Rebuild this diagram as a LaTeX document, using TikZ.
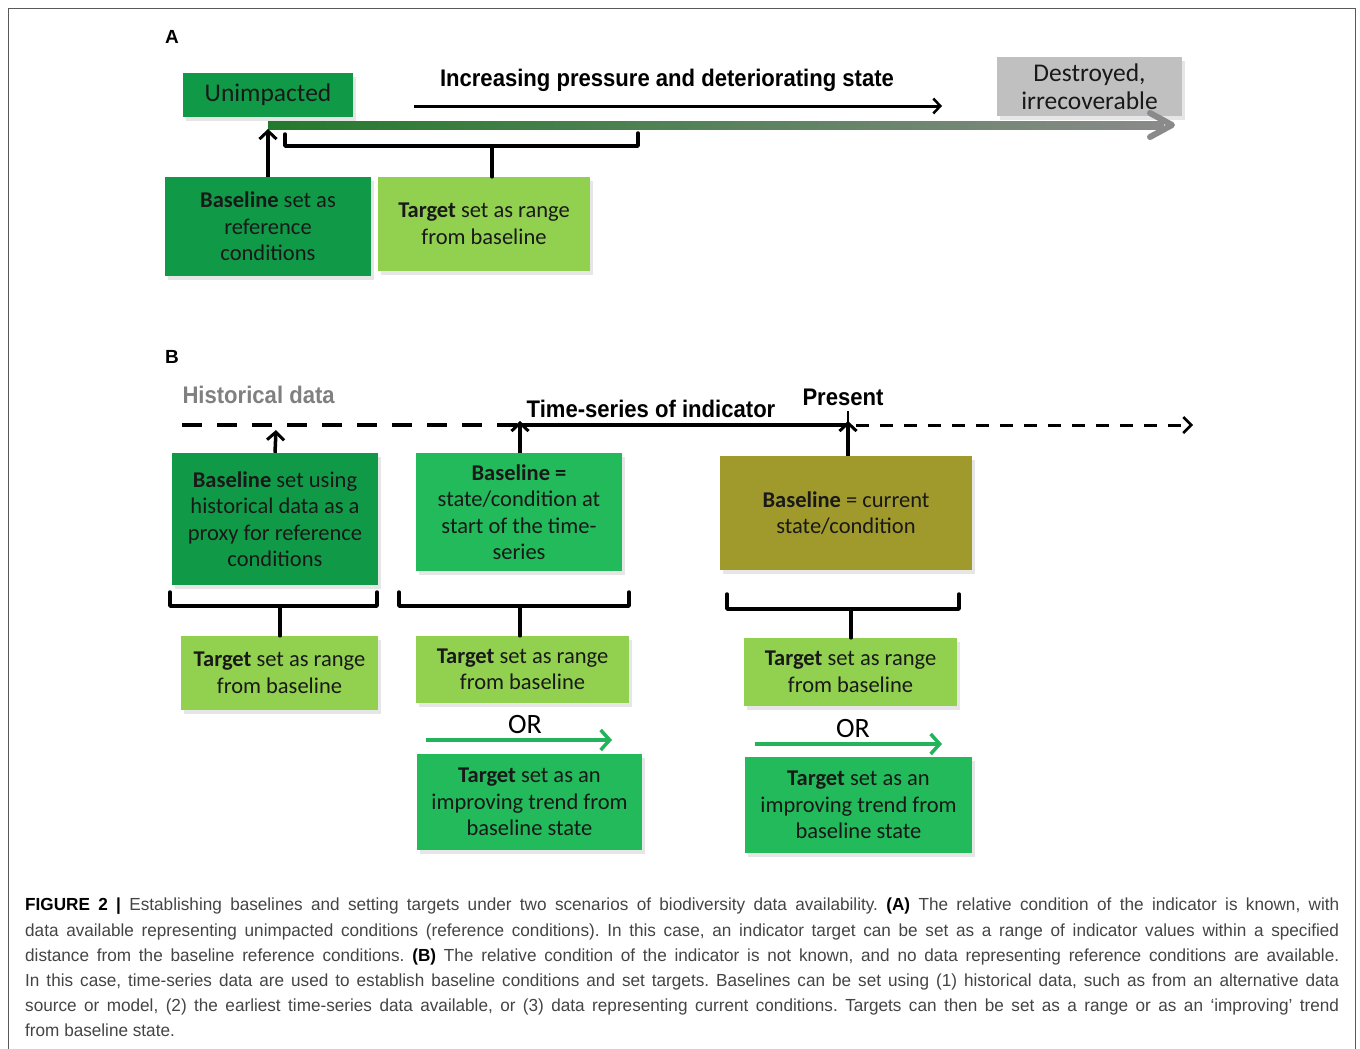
\documentclass[tikz,border=0pt]{standalone}
\usepackage{fontspec}
\usepackage{xcolor}
\usepackage{tikz}
\usetikzlibrary{positioning,shadows,arrows.meta}
\setmainfont{Liberation Sans}
\newfontfamily\boxfont{Carlito}
\newfontfamily\headfont[FakeStretch=0.92]{Liberation Sans}
\newfontfamily\capfont[FakeStretch=0.98]{Liberation Sans}

\definecolor{darkgreen}{HTML}{109A48}
\definecolor{midgreen}{HTML}{22BA5B}
\definecolor{lightgreen}{HTML}{92D050}
\definecolor{olivebox}{HTML}{A09A2D}
\definecolor{greybox}{HTML}{C0C0C0}
\definecolor{trendgreen}{HTML}{23B35B}
\definecolor{captext}{HTML}{444444}
\definecolor{stateleft}{HTML}{247A2C}
\definecolor{statemid}{HTML}{86B356}
\definecolor{stateright}{HTML}{8A8A8A}

\tikzset{
    stepbox/.style={rectangle, inner sep=2pt, align=center, text=black!90,
        font=\boxfont\fontsize{22.5}{26.5}\selectfont,
        drop shadow={shadow xshift=3pt, shadow yshift=-4pt, opacity=0.2}},
    headtext/.style={font=\headfont\bfseries\fontsize{24}{28}\selectfont},
    thickline/.style={line width=3.5pt, line cap=round, line join=round},
    uparrow/.style={line width=3.5pt, -{Straight Barb[length=8pt, width=17pt, line width=3pt]}},
    trendarrow/.style={line width=3.5pt, trendgreen, -{Straight Barb[length=9pt, width=20pt, line width=3.5pt]}}
}

\begin{document}
\begin{tikzpicture}[x=1pt, y=-1pt]
    \useasboundingbox (0,0) rectangle (1360,1049);
    \draw[black!65, line width=1pt] (8,1049) -- (8,9) -- (1355,9) -- (1355,1049);

    % panel A
    \node (labA) [font=\bfseries\fontsize{19}{22}\selectfont] at (172,37) {A};
    \node (unimp) [stepbox, fill=darkgreen, minimum width=170pt, minimum height=44pt, drop shadow={opacity=0},
        font=\boxfont\fontsize{25.5}{29}\selectfont] at (268,95) {Unimpacted};
    \node (destr) [stepbox, fill=greybox, minimum width=185pt, minimum height=59pt, drop shadow={opacity=0},
        font=\boxfont\fontsize{25.5}{28}\selectfont] at (1089.5,86.5) {Destroyed,\\irrecoverable};
    \node (press) [headtext] at (667,80) {Increasing pressure and deteriorating state};
    \coordinate (pressL) at (414,106);
    \coordinate (pressR) at (942,106);
    \draw[line width=3pt, -{Straight Barb[length=7pt, width=15pt, line width=2.5pt]}] (pressL) -- (pressR);

    \coordinate (stateL) at (268,125);
    \coordinate (stateR) at (1172,125);
    \shade[left color=stateleft, middle color=statemid, right color=stateright]
        ([yshift=-4pt]stateL) rectangle ([xshift=-8pt, yshift=4pt]stateR);
    \draw[stateright, line width=6pt, line cap=round, line join=round]
        ([xshift=-22pt, yshift=-12pt]stateR) -- (stateR) -- ([xshift=-22pt, yshift=12pt]stateR);

    \node (baseA) [stepbox, fill=darkgreen, minimum width=206pt, minimum height=99pt] at (268,226.5) {\textbf{Baseline} set as\\reference\\conditions};
    \node (targA) [stepbox, fill=lightgreen, minimum width=212pt, minimum height=94pt] at (484,224) {\textbf{Target} set as range\\from baseline};
    \draw[uparrow] (baseA.north) -- (stateL |- 0,129);
    \draw[thickline] (285,134) -- (285,146) -- (638,146) -- (638,133);
    \draw[thickline] (492,146) -- (targA.north -| 492,0);

    % panel B
    \node (labB) [font=\bfseries\fontsize{19}{22}\selectfont] at (172,357) {B};
    \node (hist) [headtext, text=black!50, anchor=west] at (179,395) {Historical data};
    \node (series) [headtext] at (651,409) {Time-series of indicator};
    \node (present) [headtext] at (843,397) {Present};

    \coordinate (lineL) at (182,425);
    \coordinate (startT) at (520,425);
    \coordinate (presT) at (848,425);
    \coordinate (lineR) at (1193,425);
    \draw[line width=3.5pt, dash pattern=on 20pt off 15pt] (lineL) -- (startT);
    \draw[line width=3.5pt] (startT) -- (presT);
    \draw[line width=3pt, dash pattern=on 13pt off 11pt, -{Straight Barb[length=8pt, width=16pt, line width=2.5pt]}] ([xshift=8pt]presT) -- (lineR);
    \draw[line width=2.5pt] (848,411) -- (presT);

    \node (baseB1) [stepbox, fill=darkgreen, minimum width=206pt, minimum height=132pt] at (275,519) {\textbf{Baseline} set using\\historical data as a\\proxy for reference\\conditions};
    \node (baseB2) [stepbox, fill=midgreen, minimum width=206pt, minimum height=118pt] at (519,512) {\textbf{Baseline =}\\state/condition at\\start of the time-\\series};
    \node (baseB3) [stepbox, fill=olivebox, minimum width=252pt, minimum height=114pt] at (846,513) {\textbf{Baseline} = current\\state/condition};
    \draw[uparrow] (baseB1.north) -- (276,430);
    \draw[uparrow] (baseB2.north -| startT) -- ([yshift=4pt]startT);
    \draw[uparrow] (baseB3.north -| presT) -- ([yshift=4pt]presT);

    \node (targB1) [stepbox, fill=lightgreen, minimum width=197pt, minimum height=74pt] at (279.5,673) {\textbf{Target} set as range\\from baseline};
    \node (targB2) [stepbox, fill=lightgreen, minimum width=213pt, minimum height=67pt] at (522.5,669.5) {\textbf{Target} set as range\\from baseline};
    \node (targB3) [stepbox, fill=lightgreen, minimum width=213pt, minimum height=68pt] at (850.5,672) {\textbf{Target} set as range\\from baseline};

    \draw[thickline] (170,592) -- (170,606) -- (377,606) -- (377,592);
    \draw[thickline] (280,606) -- (targB1.north -| 280,0);
    \draw[thickline] (399,592) -- (399,606) -- (629,606) -- (629,592);
    \draw[thickline] (520,606) -- (targB2.north -| 520,0);
    \draw[thickline] (727,594) -- (727,609) -- (959,609) -- (959,594);
    \draw[thickline] (851,609) -- (targB3.north -| 851,0);

    \node (or2) [font=\boxfont\fontsize{28}{30}\selectfont] at (525,725) {OR};
    \node (or3) [font=\boxfont\fontsize{28}{30}\selectfont] at (853,729) {OR};
    \node (trend2) [stepbox, fill=midgreen, minimum width=225pt, minimum height=96pt] at (529.5,802) {\textbf{Target} set as an\\improving trend from\\baseline state};
    \node (trend3) [stepbox, fill=midgreen, minimum width=227pt, minimum height=96pt] at (858.5,805) {\textbf{Target} set as an\\improving trend from\\baseline state};
    \coordinate (tr2L) at (426,740);
    \coordinate (tr2R) at (612,740);
    \coordinate (tr3L) at (755,744);
    \coordinate (tr3R) at (942,744);
    \draw[trendarrow] (tr2L) -- (tr2R);
    \draw[trendarrow] (tr3L) -- (tr3R);

    % caption
    \node (caption) [anchor=north west, text width=1314pt, align=justify, inner sep=0pt, text=captext,
        font=\capfont\frenchspacing\fontsize{17.5}{25.2}\selectfont] at (25,898)
        {\textcolor{black}{\textbf{FIGURE 2 |}} Establishing baselines and setting targets under two scenarios of biodiversity data availability. \textcolor{black}{\textbf{(A)}} The relative condition of the indicator is known, with\linebreak
        data available representing unimpacted conditions (reference conditions). In this case, an indicator target can be set as a range of indicator values within a specified\linebreak
        distance from the baseline reference conditions. \textcolor{black}{\textbf{(B)}} The relative condition of the indicator is not known, and no data representing reference conditions are available.\linebreak
        In this case, time-series data are used to establish baseline conditions and set targets. Baselines can be set using (1) historical data, such as from an alternative data\linebreak
        source or model, (2) the earliest time-series data available, or (3) data representing current conditions. Targets can then be set as a range or as an ‘improving’ trend\linebreak
        from baseline state.};
\end{tikzpicture}
\end{document}
